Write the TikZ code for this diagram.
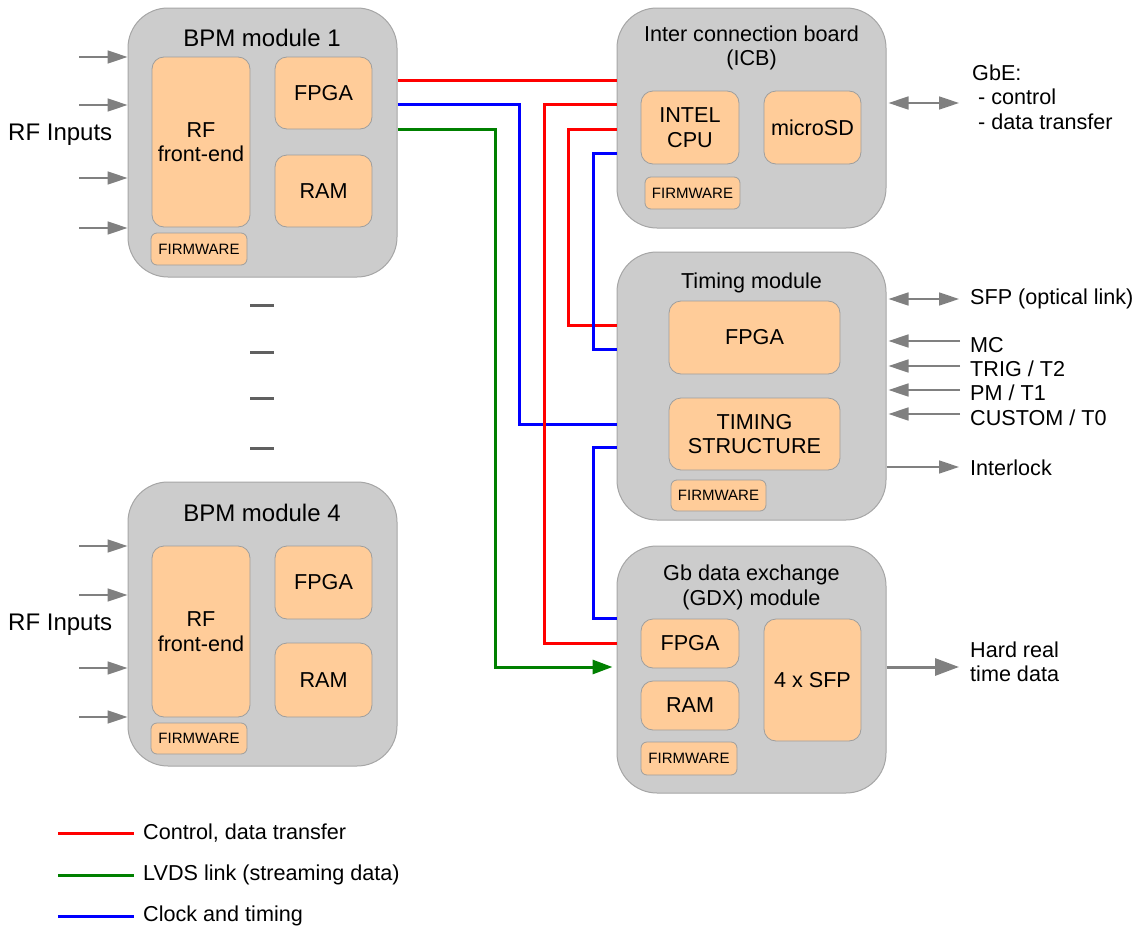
\documentclass[tikz,border=0pt]{standalone}
\usepackage{fontspec}
\setmainfont{Liberation Sans}
\usetikzlibrary{arrows.meta}

\definecolor{modgray}{HTML}{CCCCCC}
\definecolor{modedge}{HTML}{A6A6A6}
\definecolor{peach}{HTML}{FFCC99}
\definecolor{partedge}{HTML}{9E9E9E}
\definecolor{ctlred}{HTML}{FF0000}
\definecolor{clkblue}{HTML}{0000FF}
\definecolor{lvdsgreen}{HTML}{008000}
\definecolor{iogray}{HTML}{808080}
\definecolor{dashgray}{HTML}{606060}

\newcommand\bpmtitlefont{\fontsize{24}{27}\selectfont}
\newcommand\partfont{\fontsize{21.6}{24.5}\selectfont}
\newcommand\fwfont{\fontsize{15}{17}\selectfont}

\tikzset{
  module/.style={draw=modedge, fill=modgray, rounded corners=40pt, line width=1pt, inner sep=0pt},
  part/.style={draw=partedge, fill=peach, rounded corners=12pt, line width=0.8pt,
               align=center, inner sep=0pt, font=\partfont},
  fwbox/.style={part, rounded corners=6pt, font=\fwfont},
  title/.style={inner sep=0pt, align=center, font=\partfont},
  lbl/.style={inner sep=0pt, anchor=west, align=left, font=\partfont},
  wire/.style={line width=3pt},
  ctl/.style={wire, draw=ctlred},
  clk/.style={wire, draw=clkblue},
  lvds/.style={wire, draw=lvdsgreen},
  io/.style={draw=iogray, line width=1.5pt, arrows={-Triangle[length=20pt, width=13pt, fill=iogray]}},
  iob/.style={draw=iogray, line width=1.5pt,
              arrows={Triangle[length=20pt, width=13pt, fill=iogray]-Triangle[length=20pt, width=13pt, fill=iogray]}},
}

\begin{document}
\begin{tikzpicture}[x=1pt, y=-1pt]
\useasboundingbox (0,0) rectangle (1136,926);
\fill[white] (0,0) rectangle (1136,926);

% ---------- BPM module 1 ----------
\node[module, minimum width=269pt, minimum height=269pt] (bpm1) at (262.5,142.5) {};
\node[title, font=\bpmtitlefont] (bpm1t) at (262,38) {BPM module 1};
\node[part, minimum width=98pt, minimum height=170pt] (rf1) at (201,142) {RF\\front-end};
\node[part, minimum width=97pt, minimum height=72pt] (fpga1) at (323.5,93) {FPGA};
\node[part, minimum width=97pt, minimum height=72pt] (ram1) at (323.5,191) {RAM};
\node[fwbox, minimum width=96pt, minimum height=32pt] (fw1) at (199,249) {FIRMWARE};
\node[lbl, font=\bpmtitlefont] (rfin1) at (8,135) {RF Inputs};
\foreach \yy in {57,105,178,228}
  \draw[io] (79,\yy) -- (bpm1.west |- 0,\yy);

% ---------- modules 2..3 omitted ----------
\foreach \yy in {305,352,398,448}
  \draw[dashgray, line width=3pt] (250,\yy) -- (274,\yy);

% ---------- BPM module 4 ----------
\node[module, minimum width=269pt, minimum height=284pt] (bpm4) at (262.5,624) {};
\node[title, font=\bpmtitlefont] (bpm4t) at (262,513) {BPM module 4};
\node[part, minimum width=98pt, minimum height=171pt] (rf4) at (201,631.5) {RF\\front-end};
\node[part, minimum width=97pt, minimum height=73pt] (fpga4) at (323.5,582.5) {FPGA};
\node[part, minimum width=97pt, minimum height=74pt] (ram4) at (323.5,680) {RAM};
\node[fwbox, minimum width=96pt, minimum height=31pt] (fw4) at (199,738.5) {FIRMWARE};
\node[lbl, font=\bpmtitlefont] (rfin4) at (8,625) {RF Inputs};
\foreach \yy in {546,595,668,717}
  \draw[io] (79,\yy) -- (bpm4.west |- 0,\yy);

% ---------- Inter connection board ----------
\node[module, minimum width=269pt, minimum height=220pt] (icb) at (751.5,118) {};
\node[title] (icbt) at (751.5,48) {Inter connection board\\(ICB)};
\node[part, minimum width=98pt, minimum height=73pt] (cpu) at (690,127.5) {INTEL\\CPU};
\node[part, minimum width=97pt, minimum height=73pt] (sd) at (812.5,127.5) {microSD};
\node[fwbox, minimum width=95pt, minimum height=32pt] (fwicb) at (692.5,193) {FIRMWARE};

% ---------- Timing module ----------
\node[module, minimum width=269pt, minimum height=268pt] (timing) at (751.5,386) {};
\node[title] (timingt) at (751.5,283) {Timing module};
\node[part, minimum width=171pt, minimum height=73pt] (tfpga) at (754.5,337.5) {FPGA};
\node[part, minimum width=171pt, minimum height=72pt] (tstruct) at (754.5,434) {TIMING\\STRUCTURE};
\node[fwbox, minimum width=95pt, minimum height=31pt] (fwt) at (718.5,495.5) {FIRMWARE};

% ---------- Gb data exchange module ----------
\node[module, minimum width=269pt, minimum height=247pt] (gdx) at (751.5,669.5) {};
\node[title] (gdxt) at (751.5,587.5) {Gb data exchange\\(GDX) module};
\node[part, minimum width=98pt, minimum height=49pt] (gfpga) at (690,643.5) {FPGA};
\node[part, minimum width=98pt, minimum height=49pt] (gram) at (690,705.5) {RAM};
\node[fwbox, minimum width=96pt, minimum height=33pt] (fwg) at (689,758.5) {FIRMWARE};
\node[part, minimum width=97pt, minimum height=122pt] (sfp4) at (812.5,680) {4 x SFP};

% ---------- backplane links ----------
\draw[ctl] (bpm1.east |- 0,80) -- (icb.west |- 0,80);
\draw[clk] (bpm1.east |- 0,104) -- (519,104) |- (timing.west |- 0,424);
\draw[ctl] (icb.west |- 0,104) -- (544,104) |- (gdx.west |- 0,643);
\draw[lvds, arrows={-Triangle[length=20pt, width=14pt, fill=lvdsgreen]}, shorten >=4pt]
  (bpm1.east |- 0,129) -- (495,129) |- (gdx.west |- 0,667);
\draw[ctl] (icb.west |- 0,129) -- (568,129) |- (timing.west |- 0,325);
\draw[clk] (icb.west |- 0,153) -- (593,153) |- (timing.west |- 0,349);
\draw[clk] (timing.west |- 0,447) -- (593,447) |- (gdx.west |- 0,618);

% ---------- external interfaces ----------
\node[lbl] (gbe) at (972,97) {GbE:\\\hspace{6pt}- control\\\hspace{6pt}- data transfer};
\draw[iob, shorten <=2pt, shorten >=13pt] (icb.east |- 0,103) -- (gbe.west |- 0,103);

\node[lbl] (sfpl) at (970,299) {SFP (optical link)};
\node[lbl] (mc) at (970,345) {MC};
\node[lbl] (trig) at (970,369) {TRIG / T2};
\node[lbl] (pm) at (970,393) {PM / T1};
\node[lbl] (cust) at (970,418) {CUSTOM / T0};
\node[lbl] (ilk) at (970,468) {Interlock};
\draw[iob, shorten <=2pt, shorten >=11pt] (timing.east |- 0,299) -- (sfpl.west |- 0,299);
\draw[io, shorten <=10pt, shorten >=2pt] (mc.west |- 0,341) -- (timing.east |- 0,341);
\draw[io, shorten <=10pt, shorten >=2pt] (trig.west |- 0,366) -- (timing.east |- 0,366);
\draw[io, shorten <=10pt, shorten >=2pt] (pm.west |- 0,390) -- (timing.east |- 0,390);
\draw[io, shorten <=10pt, shorten >=2pt] (cust.west |- 0,414) -- (timing.east |- 0,414);
\draw[io, shorten >=11pt] (timing.east |- 0,467) -- (ilk.west |- 0,467);

\node[lbl] (hard) at (970,662) {Hard real\\time data};
\draw[draw=iogray, line width=3pt, arrows={-Triangle[length=24pt, width=17pt, fill=iogray]}, shorten >=11pt]
  (gdx.east |- 0,667) -- (hard.west |- 0,667);

% ---------- legend ----------
\node[lbl] (lg1) at (143,833) {Control, data transfer};
\node[lbl] (lg2) at (143,875) {LVDS link (streaming data)};
\node[lbl] (lg3) at (143,916) {Clock and timing};
\draw[ctl] ([xshift=-85pt]lg1.west) -- ([xshift=-9pt]lg1.west);
\draw[lvds] ([xshift=-85pt]lg2.west) -- ([xshift=-9pt]lg2.west);
\draw[clk] ([xshift=-85pt]lg3.west) -- ([xshift=-9pt]lg3.west);
\end{tikzpicture}
\end{document}
